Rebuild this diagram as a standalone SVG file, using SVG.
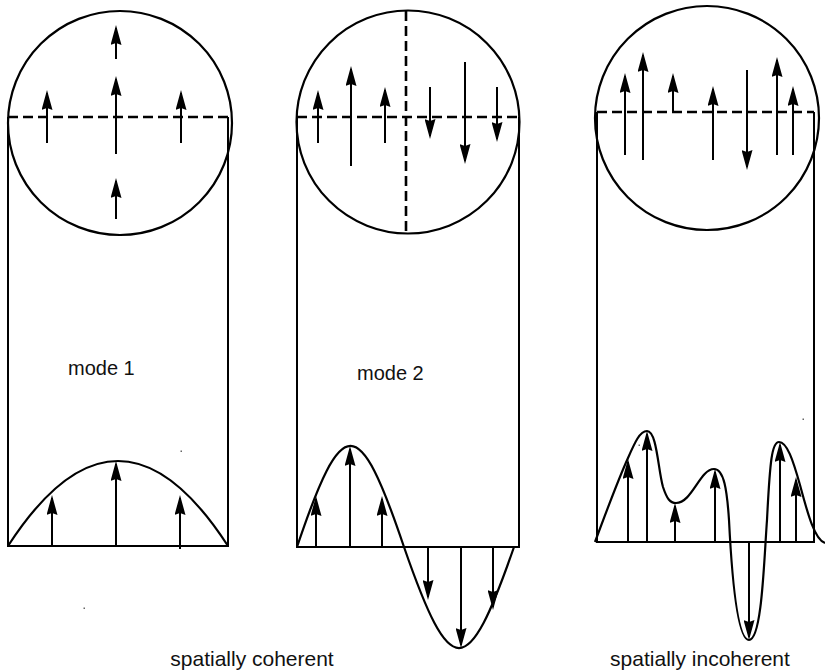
<svg xmlns="http://www.w3.org/2000/svg" width="825" height="672" viewBox="0 0 825 672">
<style>
.ln{fill:none;stroke:#000;stroke-width:2.2}
.thin{fill:none;stroke:#000;stroke-width:2}
.dash{fill:none;stroke:#000;stroke-width:2.6;stroke-dasharray:10,5}
.ar{stroke:#000;stroke-width:2;marker-end:url(#ah)}
.lbl{font-family:"Liberation Sans",Arial,Helvetica,sans-serif;font-size:20px;fill:#111}
.cap{font-family:"Liberation Sans",Arial,Helvetica,sans-serif;font-size:21px;fill:#111;text-anchor:middle}
.dot{fill:#666}
</style>
<defs>
<marker id="ah" viewBox="0 0 20 11" refX="17" refY="5.5" markerWidth="20" markerHeight="11" markerUnits="userSpaceOnUse" orient="auto">
<path d="M0,0 L20,5.5 L0,11 L2,5.5 z" fill="#000"/>
</marker>
</defs>
<rect width="825" height="672" fill="#fff"/>

<g id="mode1">
<path class="thin" d="M8,117 V546 H228 V117"/>
<circle class="ln" cx="120" cy="123" r="112"/>
<line class="dash" x1="8" y1="117" x2="228" y2="117"/>
<path class="ln" d="M8,546 Q118,376 228,546"/>
<g class="arrows">
<line class="ar" x1="116" y1="59" x2="116" y2="28"/>
<line class="ar" x1="116" y1="154" x2="116" y2="79"/>
<line class="ar" x1="47" y1="143" x2="47" y2="93"/>
<line class="ar" x1="181" y1="143" x2="181" y2="93"/>
<line class="ar" x1="116" y1="219" x2="116" y2="181"/>
<line class="ar" x1="52" y1="546" x2="52" y2="498"/>
<line class="ar" x1="116" y1="546" x2="116" y2="464"/>
<line class="ar" x1="180" y1="549" x2="180" y2="498"/>
</g>
<text class="lbl" x="68" y="375">mode 1</text>
<rect class="dot" x="180.5" y="450.5" width="1.5" height="1.5"/>
<rect class="dot" x="83.5" y="607.5" width="1.5" height="1.5"/>
</g>

<g id="mode2">
<path class="thin" d="M297,117 V547 H519 V117"/>
<circle class="ln" cx="408" cy="122" r="111.5"/>
<line class="dash" x1="297" y1="117" x2="520" y2="117"/>
<line class="dash" x1="406" y1="11" x2="406" y2="234"/>
<path class="ln" d="M297,547 C342.4,412.3 358.6,412.3 404,547 C450.7,681.7 467.3,681.7 514,547"/>
<g class="arrows">
<line class="ar" x1="318" y1="143" x2="318" y2="93"/>
<line class="ar" x1="351" y1="166" x2="351" y2="69"/>
<line class="ar" x1="385" y1="143" x2="385" y2="90"/>
<line class="ar" x1="430" y1="87" x2="430" y2="136"/>
<line class="ar" x1="465" y1="62" x2="465" y2="161"/>
<line class="ar" x1="497" y1="87" x2="497" y2="139"/>
<line class="ar" x1="316" y1="547" x2="316" y2="499"/>
<line class="ar" x1="350" y1="547" x2="350" y2="449"/>
<line class="ar" x1="382" y1="547" x2="382" y2="499"/>
<line class="ar" x1="428" y1="547" x2="428" y2="597"/>
<line class="ar" x1="461" y1="547" x2="461" y2="645"/>
<line class="ar" x1="493" y1="547" x2="493" y2="607"/>
</g>
<text class="lbl" x="357" y="380">mode 2</text>
</g>

<g id="incoherent">
<path class="thin" d="M597,112 V542 H814 V112"/>
<circle class="ln" cx="707" cy="118" r="112"/>
<line class="dash" x1="597" y1="112" x2="814" y2="112"/>
<path class="ln" d="M595,542 C605,515 618,480 628,458 C635,442 640,431 647,431 C657,431 658,470 663,487 C667,499 670,503 676,503 C692,503 700,469 714,469 C724,469 727,490 729,520 C731,560 736,640 749,640 C762,640 764,560 767,520 C770,460 772,442 779,442 C787,442 793,460 800,485 C808,515 815,540 825,543"/>
<g class="arrows">
<line class="ar" x1="625" y1="155" x2="625" y2="76"/>
<line class="ar" x1="643" y1="160" x2="643" y2="55"/>
<line class="ar" x1="673" y1="112" x2="673" y2="76"/>
<line class="ar" x1="713" y1="160" x2="713" y2="89"/>
<line class="ar" x1="747" y1="70" x2="747" y2="167"/>
<line class="ar" x1="777" y1="155" x2="777" y2="60"/>
<line class="ar" x1="793" y1="155" x2="793" y2="89"/>
<line class="ar" x1="628" y1="542" x2="628" y2="462"/>
<line class="ar" x1="647" y1="542" x2="647" y2="434"/>
<line class="ar" x1="675" y1="542" x2="675" y2="506"/>
<line class="ar" x1="715" y1="542" x2="715" y2="472"/>
<line class="ar" x1="749" y1="542" x2="749" y2="637"/>
<line class="ar" x1="780" y1="542" x2="780" y2="445"/>
<line class="ar" x1="796" y1="542" x2="796" y2="480"/>
</g>
<rect class="dot" x="638.5" y="444.5" width="1.5" height="1.5"/>
<rect class="dot" x="802.5" y="418.5" width="1.5" height="1.5"/>
</g>

<g id="captions">
<text class="cap" x="252" y="666">spatially coherent</text>
<text class="cap" x="700" y="666">spatially incoherent</text>
</g>
</svg>
